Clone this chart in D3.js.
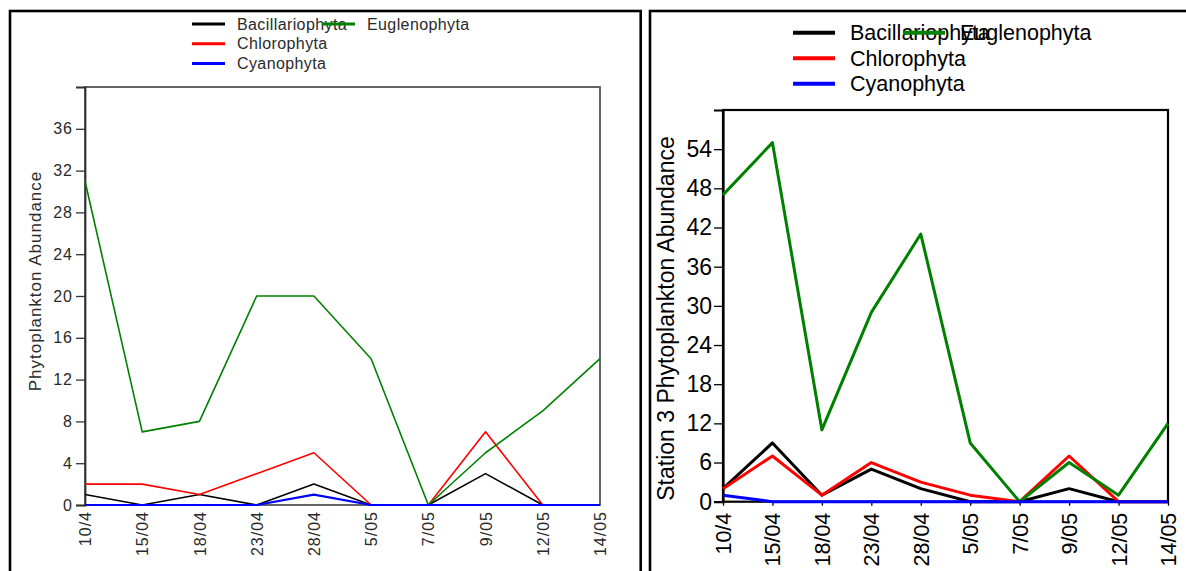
<!DOCTYPE html>
<html>
<head>
<meta charset="utf-8">
<script src="https://cdn.jsdelivr.net/npm/d3@7"></script>
<style>
  html, body { margin: 0; padding: 0; background: #fff; }
  svg { display: block; }
</style>
</head>
<body>
<svg id="chart" width="1186" height="571"></svg>
<script>
// Sampling dates (day/month)
const dates = ["10/4", "15/04", "18/04", "23/04", "28/04", "5/05", "7/05", "9/05", "12/05", "14/05"];

const seriesNames = ["Bacillariophyta", "Chlorophyta", "Cyanophyta", "Euglenophyta"];
const seriesColors = ["#000000", "#ff0000", "#0000ff", "#008000"];

// Left panel abundances
const leftBacillariophyta = [1, 0, 1, 0, 2, 0, 0, 3, 0, 0];
const leftChlorophyta     = [2, 2, 1, 3, 5, 0, 0, 7, 0, 0];
const leftCyanophyta      = [0, 0, 0, 0, 1, 0, 0, 0, 0, 0];
const leftEuglenophyta    = [31, 7, 8, 20, 20, 14, 0, 5, 9, 14];
const leftTicks = [0, 4, 8, 12, 16, 20, 24, 28, 32, 36];

// Station 3 abundances
const st3Bacillariophyta = [2, 9, 1, 5, 2, 0, 0, 2, 0, 0];
const st3Chlorophyta     = [2, 7, 1, 6, 3, 1, 0, 7, 0, 0];
const st3Cyanophyta      = [1, 0, 0, 0, 0, 0, 0, 0, 0, 0];
const st3Euglenophyta    = [47, 55, 11, 29, 41, 9, 0, 6, 1, 12];
const st3Ticks = [0, 6, 12, 18, 24, 30, 36, 42, 48, 54];

const svg = d3.select("#chart");

// Outer panel borders
svg.append("rect").attr("x", 10).attr("y", 11).attr("width", 630.7).attr("height", 620)
  .attr("fill", "none").attr("stroke", "#000").attr("stroke-width", 2.6);
svg.append("rect").attr("x", 650).attr("y", 11).attr("width", 600).attr("height", 620)
  .attr("fill", "none").attr("stroke", "#000").attr("stroke-width", 2.6);

function drawPanel(cfg) {
  const g = svg.append("g");
  const x = d3.scalePoint().domain(dates).range([cfg.x0, cfg.x1]).padding(0);
  const y = d3.scaleLinear().domain([0, cfg.yMax]).range([cfg.yBottom, cfg.yTop]);

  // plot frame
  g.append("rect")
    .attr("x", cfg.x0).attr("y", cfg.yTop)
    .attr("width", cfg.x1 - cfg.x0).attr("height", cfg.yBottom - cfg.yTop)
    .attr("fill", "none").attr("stroke", cfg.frameColor).attr("stroke-width", cfg.frameWidth);

  // y axis
  const yAxis = g.append("g")
    .attr("transform", `translate(${cfg.x0},0)`)
    .call(d3.axisLeft(y).tickValues(cfg.ticks).tickSize(cfg.yTickSize).tickPadding(cfg.yTickPad));
  yAxis.select(".domain").attr("stroke", cfg.axisColor).attr("stroke-width", cfg.frameWidth);
  yAxis.selectAll(".tick line").attr("stroke", cfg.axisColor).attr("stroke-width", 1.3);
  yAxis.selectAll(".tick text")
    .attr("fill", cfg.textColor)
    .style("font-family", "'Liberation Sans', Arial, sans-serif")
    .style("font-size", cfg.tickFont + "px")
    .style("letter-spacing", cfg.letterSpacing + "px");

  // x axis with rotated labels
  const xAxis = g.append("g")
    .attr("transform", `translate(0,${cfg.yBottom})`)
    .call(d3.axisBottom(x).tickSize(cfg.xTickSize).tickPadding(0));
  xAxis.select(".domain").remove();
  xAxis.selectAll(".tick line").attr("stroke", cfg.axisColor).attr("stroke-width", 1.3);
  xAxis.selectAll(".tick text")
    .attr("fill", cfg.textColor)
    .attr("transform", "rotate(-90)")
    .attr("x", -cfg.xLabelGap).attr("y", 0).attr("dy", "0.35em")
    .attr("text-anchor", "end")
    .style("font-family", "'Liberation Sans', Arial, sans-serif")
    .style("font-size", cfg.xFont + "px")
    .style("letter-spacing", cfg.letterSpacing + "px");

  // y axis title
  g.append("text")
    .attr("transform", `translate(${cfg.titleX},${cfg.titleY}) rotate(-90)`)
    .attr("text-anchor", "middle")
    .attr("fill", cfg.textColor)
    .style("font-family", "'Liberation Sans', Arial, sans-serif")
    .style("font-size", cfg.titleFont + "px")
    .style("letter-spacing", cfg.titleSpacing + "px")
    .text(cfg.title);

  // series lines
  const line = d3.line().x((d, i) => x(dates[i])).y(d => y(d));
  const order = [0, 1, 3, 2];
  order.forEach(k => {
    g.append("path")
      .datum(cfg.series[k])
      .attr("d", line)
      .attr("fill", "none")
      .attr("stroke", seriesColors[k])
      .attr("stroke-width", k === 2 ? cfg.baseLineWidth : cfg.lineWidth)
      .attr("stroke-linejoin", "round");
  });

  // legend: three rows in first column, Euglenophyta in second column
  const slots = [[0, 0], [0, 1], [0, 2], [1, 0]];
  seriesNames.forEach((name, k) => {
    const [col, row] = slots[k];
    const lx = cfg.legX + col * cfg.legColGap;
    const ly = cfg.legY + row * cfg.legRowGap;
    g.append("text")
      .attr("x", lx + cfg.legTextOff).attr("y", ly).attr("dy", "0.35em")
      .attr("fill", cfg.textColor)
      .style("font-family", "'Liberation Sans', Arial, sans-serif")
      .style("font-size", cfg.legFont + "px")
      .style("letter-spacing", cfg.legSpacing + "px")
      .text(name);
  });
  seriesNames.forEach((name, k) => {
    const [col, row] = slots[k];
    const lx = cfg.legX + col * cfg.legColGap;
    const ly = cfg.legY + row * cfg.legRowGap;
    g.append("line")
      .attr("x1", lx).attr("x2", lx + cfg.legLineLen)
      .attr("y1", ly).attr("y2", ly)
      .attr("stroke", seriesColors[k]).attr("stroke-width", cfg.legLineWidth);
  });
}

drawPanel({
  x0: 85, x1: 600, yTop: 87, yBottom: 505, yMax: 40, ticks: leftTicks,
  series: [leftBacillariophyta, leftChlorophyta, leftCyanophyta, leftEuglenophyta],
  frameColor: "#555", axisColor: "#333", frameWidth: 1.8, textColor: "#2a2a2a",
  yTickSize: 9, yTickPad: 3, xTickSize: 0, xLabelGap: 6,
  tickFont: 16, xFont: 16, letterSpacing: 1,
  title: "Phytoplankton Abundance", titleX: 40.5, titleY: 281, titleFont: 17, titleSpacing: 1,
  lineWidth: 1.6, baseLineWidth: 2.2,
  legX: 192, legY: 24, legRowGap: 19.7, legColGap: 130, legTextOff: 45, legLineLen: 33,
  legLineWidth: 3, legFont: 16, legSpacing: 0.4
});

drawPanel({
  x0: 723, x1: 1168, yTop: 110, yBottom: 501.7, yMax: 60, ticks: st3Ticks,
  series: [st3Bacillariophyta, st3Chlorophyta, st3Cyanophyta, st3Euglenophyta],
  frameColor: "#000", axisColor: "#000", frameWidth: 2.2, textColor: "#000",
  yTickSize: 9, yTickPad: 2, xTickSize: 4, xLabelGap: 11,
  tickFont: 23, xFont: 21.5, letterSpacing: 0,
  title: "Station 3 Phytoplankton Abundance", titleX: 673.5, titleY: 318.5, titleFont: 23, titleSpacing: 0,
  lineWidth: 3, baseLineWidth: 3,
  legX: 793, legY: 32.7, legRowGap: 25.5, legColGap: 110, legTextOff: 57, legLineLen: 42,
  legLineWidth: 4, legFont: 21.5, legSpacing: 0
});
</script>
</body>
</html>
